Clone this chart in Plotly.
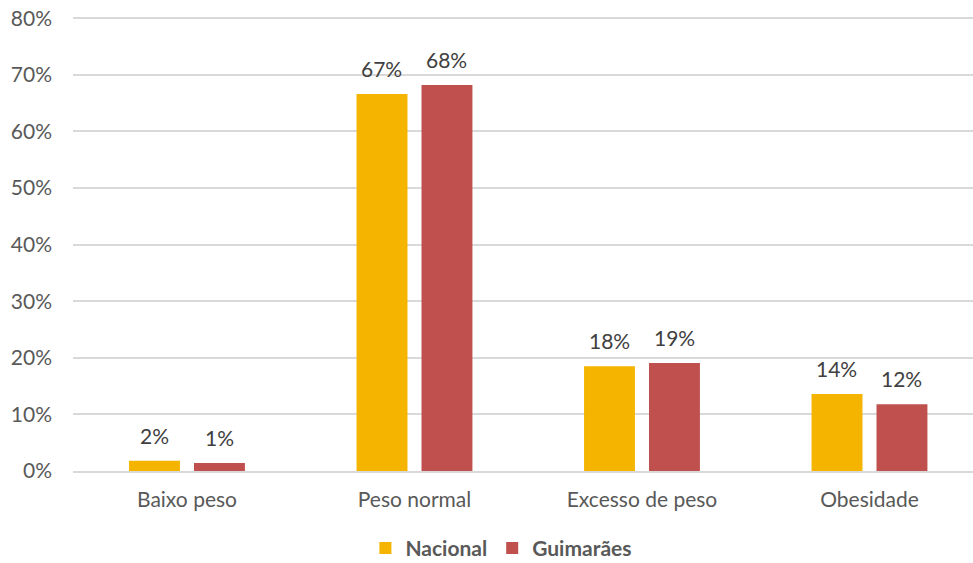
import plotly.graph_objects as go

categories = ["Baixo peso", "Peso normal", "Excesso de peso", "Obesidade"]
nacional = [1.8, 66.6, 18.5, 13.6]
guimaraes = [1.4, 68.2, 19.1, 11.8]
nacional_labels = ["2%", "67%", "18%", "14%"]
guimaraes_labels = ["1%", "68%", "19%", "12%"]
ytick_vals = [0, 10, 20, 30, 40, 50, 60, 70, 80]
ytick_text = ["0%", "10%", "20%", "30%", "40%", "50%", "60%", "70%", "80%"]

FONT = "Lato, Open Sans, sans-serif"
GREY = "#595959"
FS = 21

fig = go.Figure()
fig.add_trace(go.Bar(name="Nacional", x=categories, y=nacional, marker_color="#F4B400",
                     marker_line_width=0))
fig.add_trace(go.Bar(name="Guimarães", x=categories, y=guimaraes, marker_color="#C0504D",
                     marker_line_width=0))

for cat, v, t in zip(categories, nacional, nacional_labels):
    fig.add_annotation(x=cat, y=v, text=t, showarrow=False, xshift=-32.5, yshift=11,
                       yanchor="bottom", font=dict(size=FS, color="#404040", family=FONT))
for cat, v, t in zip(categories, guimaraes, guimaraes_labels):
    fig.add_annotation(x=cat, y=v, text=t, showarrow=False, xshift=32.5, yshift=11,
                       yanchor="bottom", font=dict(size=FS, color="#404040", family=FONT))

fig.update_layout(
    width=973, height=563,
    margin=dict(l=73, r=0, t=16, b=92),
    paper_bgcolor="white", plot_bgcolor="white",
    barmode="group", bargap=0.429, bargroupgap=0.216,
    font=dict(family=FONT, size=FS, color=GREY),
    showlegend=True,
    legend=dict(orientation="h", xref="container", yref="container",
                x=0.5153, xanchor="center", y=0.026, yanchor="middle",
                font=dict(size=FS, color=GREY, family=FONT, weight="bold"),
                itemwidth=30, traceorder="normal"),
)
fig.update_yaxes(range=[0, 80.4], tickvals=ytick_vals, ticktext=ytick_text,
                 showgrid=True, gridcolor="#D9D9D9", gridwidth=1.5, zeroline=False,
                 ticks="", tickfont=dict(size=FS, color=GREY), showline=False,
                 ticklabelstandoff=20, automargin=False)
fig.update_xaxes(range=[-0.501, 3.455], showline=True, linecolor="#D9D9D9", linewidth=1.5,
                 ticks="", tickfont=dict(size=FS, color=GREY), ticklabelstandoff=9,
                 automargin=False)

fig.write_html("out.html", config={"displayModeBar": False},
               post_script="document.body.style.margin='0';document.body.style.overflow='hidden';")
